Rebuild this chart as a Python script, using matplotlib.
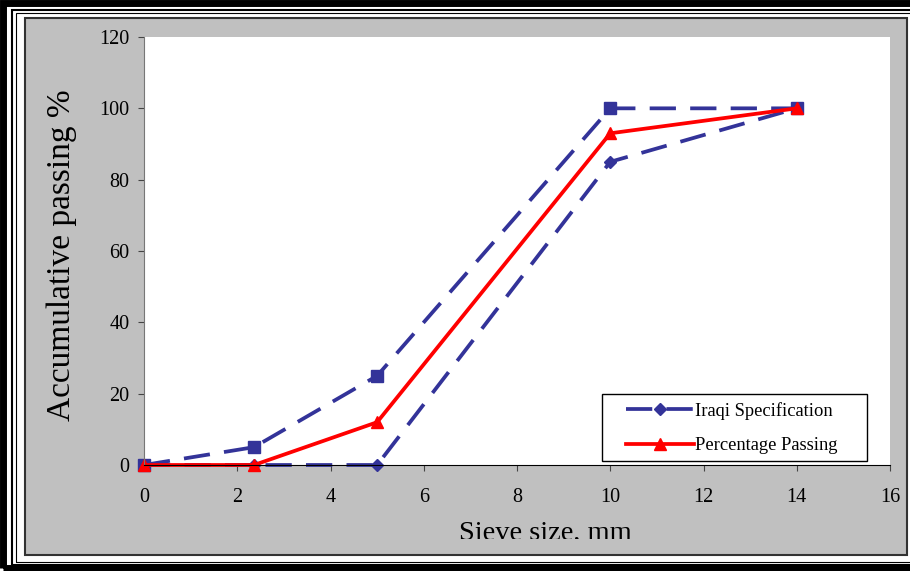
import matplotlib.pyplot as plt
from matplotlib.patches import Rectangle

plt.switch_backend('Agg')
plt.rcParams['font.family'] = ['Liberation Serif', 'DejaVu Serif']

# sieve sizes (mm) and passing percentages
sieve = [0, 2.36, 5, 10, 14]
spec_lower = [0, 0, 0, 85, 100]
spec_upper = [0, 5, 25, 100, 100]
passing = [0, 0, 12, 93, 100]

W, H = 910, 571
fig = plt.figure(figsize=(W / 100, H / 100), dpi=100)


def px_rect(x0, y0, x1, y1, z=-5, **kw):
    # rectangle given in pixel coords, origin top-left
    return Rectangle((x0 / W, 1 - y1 / H), (x1 - x0) / W, (y1 - y0) / H,
                     transform=fig.transFigure, zorder=z, **kw)


# outer frame lines
fig.patches.append(px_rect(3, 3, W + 20, H - 3, fill=False, ec='black', lw=5))
fig.patches.append(px_rect(12, 10, W + 20, 565, fill=False, ec='black', lw=1.5))
fig.patches.append(px_rect(16, 13, W + 20, 562, fill=False, ec='black', lw=0.8))
# gray chart area
fig.patches.append(px_rect(25, 18, 907, 555, fc='#c0c0c0', ec='#333333', lw=1.5))

ax = fig.add_axes([144 / W, 1 - 465 / H, (890 - 144) / W, (465 - 37) / H])
ax.set_facecolor('white')

blue = '#333399'
l1, = ax.plot(sieve, spec_lower, color=blue, lw=2.7, dashes=(7, 3.8), marker='D',
              markersize=6.5, label='Iraqi Specification', clip_on=False)
ax.plot(sieve, spec_upper, color=blue, lw=2.7, dashes=(7, 3.8), marker='s',
        markersize=8, clip_on=False)
l3, = ax.plot(sieve, passing, color='#ff0000', lw=2.7, marker='^', markersize=9,
              label='Percentage Passing', clip_on=False)

ax.set_xlim(0, 16)
ax.set_ylim(0, 120)
ax.set_xticks(range(0, 17, 2))
ax.set_yticks(range(0, 121, 20))
ax.tick_params(direction='out', length=4.5, colors='#444444', labelcolor='black',
               labelsize=14.5)
ax.tick_params(axis='y', pad=6)
ax.tick_params(axis='x', pad=12)
for s in ['top', 'right']:
    ax.spines[s].set_visible(False)
ax.spines['left'].set_color('#777777')
ax.spines['bottom'].set_color('black')

fig.text(62 / W, 1 - 255 / H, 'Accumulative passing %', fontsize=24,
         rotation=90, ha='center', va='center')

# x label is cut off at the bottom, as in the source image
clip = Rectangle((0, 1 - 539 / H), 1, 539 / H, transform=fig.transFigure)
xl = fig.text(545 / W, 1 - 521 / H, 'Sieve size, mm', fontsize=20.5,
              ha='center', va='top')
xl.set_clip_path(clip)

# legend box drawn separately to get the wide side padding
fig.patches.append(px_rect(602, 394, 867, 461, z=4, fc='white', ec='black', lw=1))
leg = fig.legend(handles=[l1, l3], loc='center left',
                 bbox_to_anchor=(626 / W, 1 - 428 / H),
                 bbox_transform=fig.transFigure, fontsize=13.3, frameon=False,
                 handlelength=3.7, borderpad=0, borderaxespad=0,
                 labelspacing=0.95, handletextpad=0.05)
leg.set_zorder(6)

fig.savefig('out.png', dpi=100)
